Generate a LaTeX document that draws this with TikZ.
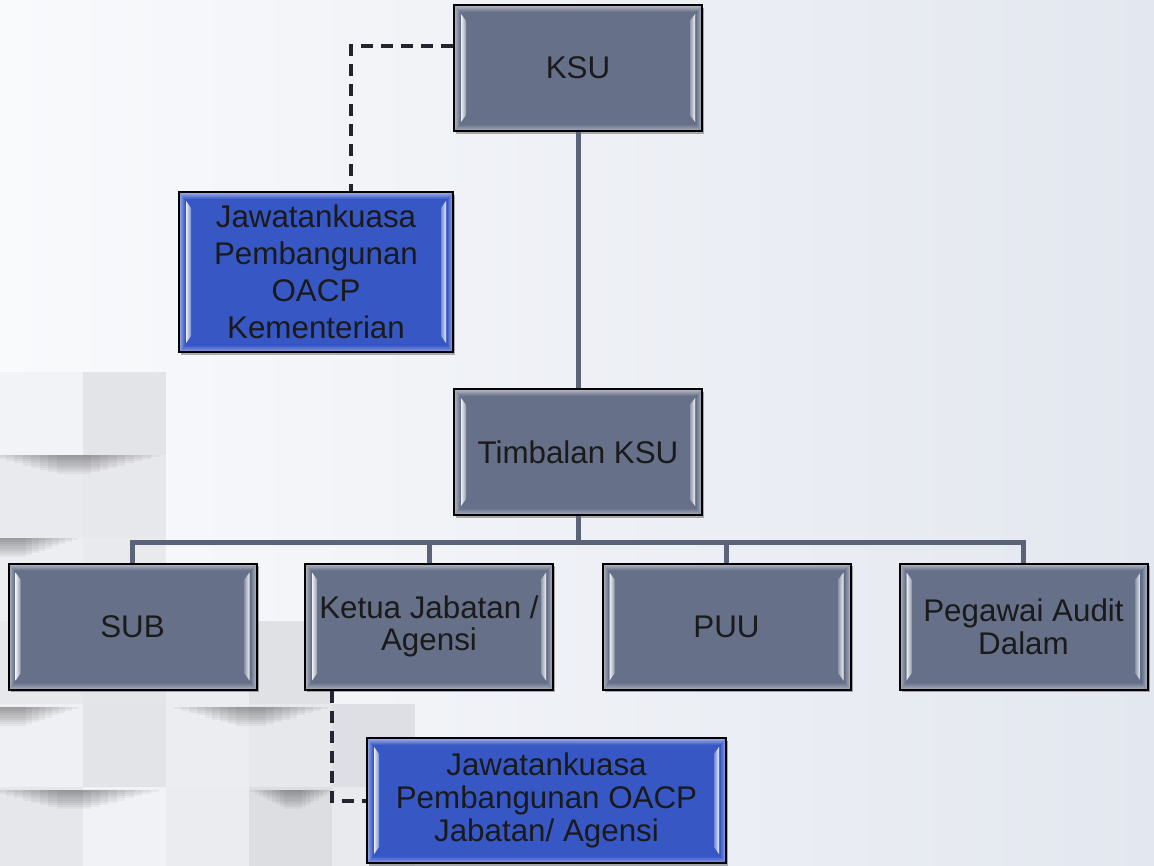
\documentclass[tikz,border=0pt]{standalone}
\usepackage{fontspec}
\setmainfont{Liberation Sans}
\usetikzlibrary{calc,shadows}
\definecolor{bgL}{HTML}{F9FAFC}
\definecolor{bgR}{HTML}{E3E7EF}
\definecolor{slate}{HTML}{667089}
\definecolor{oblue}{HTML}{3757C5}
\definecolor{connc}{HTML}{5A6378}
\definecolor{dashc}{HTML}{23262E}
\definecolor{txtc}{HTML}{1A1A1A}
\newcommand\tileshadow[3]{% x1, x2, y
  \foreach \si in {1,...,9}{
    \fill[black, opacity=.045] ({#1+\si*(#2-#1)/22},#3) rectangle ({#2-\si*(#2-#1)/22},{#3+\si*2.1});
  }}
\tikzset{
  x=0.75pt, y=-0.75pt,
  bevel/.style={draw=black, line width=1.5pt, fill=#1, inner sep=0pt, align=center,
    text=txtc, font=\fontsize{23.5}{24.5}\selectfont,
    drop shadow={shadow xshift=1.5pt, shadow yshift=-2pt, opacity=.3, fill=black},
    path picture={
      \coordinate (pnw) at (path picture bounding box.north west);
      \coordinate (pne) at (path picture bounding box.north east);
      \coordinate (psw) at (path picture bounding box.south west);
      \coordinate (pse) at (path picture bounding box.south east);
      \shade[top color=#1!45!white, bottom color=#1] (pnw) -- (pne) -- ($(pne)+(-6,7)$) -- ($(pnw)+(6,7)$) -- cycle;
      \shade[top color=#1, bottom color=#1!55!white] (psw) -- (pse) -- ($(pse)+(-6,-7)$) -- ($(psw)+(6,-7)$) -- cycle;
      \shade[left color=#1!50!white, right color=#1] (pnw) -- ($(pnw)+(6,7)$) -- ($(psw)+(6,-7)$) -- (psw) -- cycle;
      \shade[left color=#1, right color=#1!50!white] (pne) -- ($(pne)+(-6,7)$) -- ($(pse)+(-6,-7)$) -- (pse) -- cycle;
      \shade[left color=white!90!#1, right color=#1!70!white] ($(pnw)+(7,9)$) -- ($(pnw)+(12,16)$) -- ($(psw)+(12,-16)$) -- ($(psw)+(7,-9)$) -- cycle;
      \shade[left color=#1!70!white, right color=white!90!#1] ($(pne)+(-7,9)$) -- ($(pne)+(-12,16)$) -- ($(pse)+(-12,-16)$) -- ($(pse)+(-7,-9)$) -- cycle;
    }},
  gbox/.style={bevel=slate, minimum width=186pt, minimum height=94.5pt},
  bbox/.style={bevel=oblue},
  solidlink/.style={draw=connc, line width=3.75pt},
  dashlink/.style={draw=dashc, line width=2.7pt, dash pattern=on 9pt off 6pt}
}
\begin{document}
\begin{tikzpicture}
\useasboundingbox (0,0) rectangle (1154,866);
\shade[left color=bgL, right color=bgR] (0,0) rectangle (1154,866);
% tiles
\foreach \tx/\ty/\tc in {0/372/F2F3F6, 83/372/E2E4E8,
  0/455/E9EAED, 83/455/E7E8EC,
  0/538/EDEEF1, 83/538/E9EAEE, 
  0/621/E6E8EB, 83/621/E3E5E9, 166/621/EBEDF0, 249/621/DFE1E5,
  0/704/EFF0F3, 83/704/E2E4E8, 166/704/ECEDF0, 249/704/E6E8EB, 332/704/DDDFE4,
  0/787/E5E7EA, 83/787/F1F2F5, 166/787/EAECEF, 249/787/DCDEE2, 332/787/E8EAEE}{
  \definecolor{tcol}{HTML}{\tc}
  \fill[tcol] (\tx,\ty) rectangle ++(83,83);
}
\tileshadow{-20}{168}{455}
\tileshadow{-60}{85}{538}
\tileshadow{-60}{85}{707}
\tileshadow{166}{336}{707}
\tileshadow{-20}{168}{790}
\tileshadow{246}{340}{790}
% nodes
\node[gbox] (KSU) at (578,68) {KSU};
\node[gbox] (TIM) at (578,452) {Timbalan KSU};
\node[gbox] (SUB) at (132.5,626.5) {SUB};
\node[gbox] (KET) at (429,626.5) {Ketua Jabatan /\\Agensi};
\node[gbox] (PUU) at (726.5,626.5) {PUU};
\node[gbox] (PEG) at (1023.5,626.5) {Pegawai Audit\\Dalam};
\node[bbox, minimum width=205.5pt, minimum height=120pt, font=\fontsize{23.5}{27.75}\selectfont] (J1) at (316,272) {Jawatankuasa\\Pembangunan\\OACP\\Kementerian};
\node[bbox, minimum width=269.25pt, minimum height=93.75pt] (J2) at (546.5,800.5) {Jawatankuasa\\Pembangunan OACP\\Jabatan/ Agensi};
% connectors
\coordinate (bus) at (578,542);
\draw[solidlink] (KSU.south) -- (TIM.north);
\draw[solidlink] (TIM.south) -- (bus);
\draw[solidlink] (SUB.north) |- (bus) -| (PEG.north);
\draw[solidlink] (KET.north) -- (KET.north |- bus);
\draw[solidlink] (PUU.north) -- (PUU.north |- bus);
\coordinate (d1) at (351,46);
\draw[dashlink] (KSU.west |- d1) -- (d1) -- (d1 |- J1.north);
\coordinate (d2) at (332,801);
\draw[dashlink] (d2 |- KET.south) -- (d2) -- (J2.west |- d2);
\end{tikzpicture}
\end{document}
